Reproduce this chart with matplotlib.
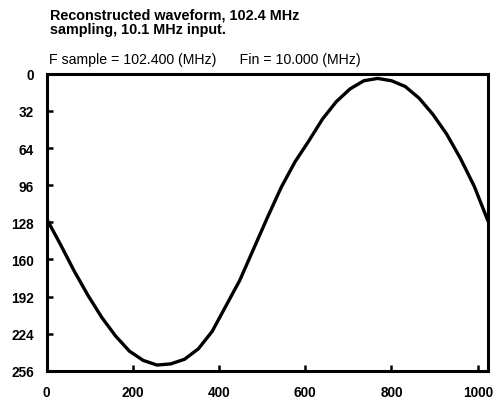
import matplotlib
matplotlib.use("Agg")
import matplotlib.pyplot as plt

# sample index vs reconstructed code
sample_idx = [0, 32, 64, 96, 128, 160, 192, 224, 256, 288, 320, 352, 384, 416,
              448, 480, 512, 544, 576, 608, 640, 672, 704, 736, 768, 800, 832,
              864, 896, 928, 960, 992, 1024]
code = [125, 147, 170, 191, 210, 226, 239, 247, 251, 250, 246, 237, 222, 200,
        178, 151, 124, 98, 76, 58, 39, 24, 13, 6, 4, 6, 11,
        21, 35, 52, 73, 97, 127]

x_ticks = [0, 200, 400, 600, 800, 1000]
y_ticks = [0, 32, 64, 96, 128, 160, 192, 224, 256]

title_lines = "Reconstructed waveform, 102.4 MHz\nsampling, 10.1 MHz input."
sub_label = "F sample = 102.400 (MHz)      Fin = 10.000 (MHz)"

plt.rcParams['font.family'] = ['Liberation Sans', 'DejaVu Sans']

fig = plt.figure(figsize=(4.96, 4.02), dpi=100)
ax = fig.add_axes([0.094, 0.075, 0.890, 0.739])

ax.plot(sample_idx, code, color='black', lw=2.4, solid_capstyle='round',
        solid_joinstyle='round')

ax.set_xlim(0, 1024)
ax.set_ylim(256, 0)
ax.set_xticks(x_ticks)
ax.set_yticks(y_ticks)
ax.tick_params(direction='in', length=4, width=1.8, labelsize=9.8)
ax.tick_params(axis='x', pad=10)
ax.tick_params(axis='y', pad=9)
for lbl in ax.get_xticklabels() + ax.get_yticklabels():
    lbl.set_fontweight('bold')
for s in ax.spines.values():
    s.set_linewidth(2.2)

fig.text(0.101, 0.98, title_lines, fontsize=10.4, fontweight='bold',
         va='top', ha='left', linespacing=1.08)
fig.text(0.099, 0.851, sub_label, fontsize=10.2, va='center', ha='left')

fig.savefig("out.png", dpi=100)
